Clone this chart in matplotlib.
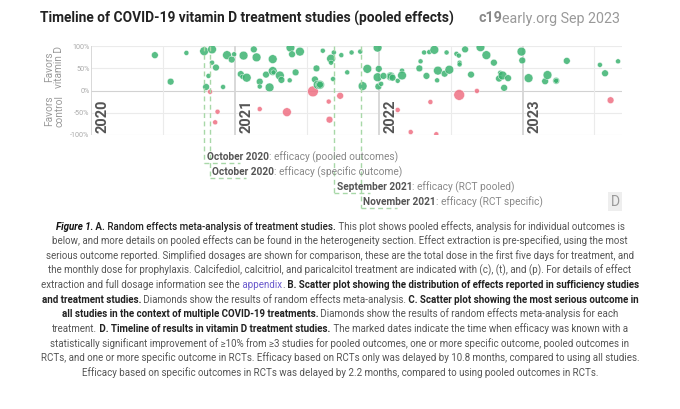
import matplotlib
matplotlib.use('Agg')
import matplotlib.pyplot as plt
import matplotlib.dates as mdates
from matplotlib.lines import Line2D
from matplotlib import font_manager
import pandas as pd

# Study results: publication date, effect (% improvement), relative study size (1 small .. 4 very large)
study_dates = [
    '2020-06-11', '2020-07-21', '2020-08-30', '2020-10-14', '2020-10-19', '2020-10-25', '2020-10-29',
    '2020-11-03', '2020-11-03', '2020-11-11', '2020-11-13', '2020-11-17', '2020-12-01', '2020-12-11',
    '2020-12-23', '2020-12-29', '2021-01-15', '2021-01-19', '2021-01-22', '2021-01-30', '2021-02-17',
    '2021-02-24', '2021-03-04', '2021-03-04', '2021-03-04', '2021-03-20', '2021-03-29', '2021-04-06',
    '2021-04-06', '2021-04-08', '2021-04-24', '2021-04-28', '2021-05-12', '2021-05-19', '2021-05-21',
    '2021-05-25', '2021-06-03', '2021-06-14', '2021-07-17', '2021-07-22', '2021-07-26', '2021-07-29',
    '2021-08-04', '2021-08-04', '2021-08-11', '2021-08-26', '2021-08-28', '2021-09-01', '2021-09-01',
    '2021-09-06', '2021-09-08', '2021-09-24', '2021-09-27', '2021-10-12', '2021-10-23', '2021-11-14',
    '2021-11-20', '2021-12-02', '2021-12-28', '2021-12-28', '2021-12-30', '2021-12-31', '2022-01-06',
    '2022-01-12', '2022-01-30', '2022-01-30', '2022-02-04', '2022-02-17', '2022-02-17', '2022-02-28',
    '2022-02-28', '2022-03-22', '2022-04-13', '2022-04-16', '2022-04-25', '2022-05-01', '2022-05-08',
    '2022-05-11', '2022-05-21', '2022-05-26', '2022-05-28', '2022-05-30', '2022-06-16', '2022-06-21',
    '2022-06-28', '2022-07-16', '2022-07-22', '2022-07-24', '2022-07-24', '2022-07-23', '2022-08-07',
    '2022-08-22', '2022-09-06', '2022-09-15', '2022-09-30', '2022-10-19', '2022-11-01', '2022-11-04',
    '2022-11-10', '2022-11-14', '2022-11-24', '2022-12-28', '2022-12-30', '2023-01-15', '2023-02-26',
    '2023-03-04', '2023-03-26', '2023-03-26', '2023-04-22', '2023-07-15', '2023-07-28', '2023-08-11',
    '2023-08-30',
]
study_effect = [
    80, 20, 85, 89, 8, 33, -3,
    93, 63, -72, 52, -48, 8, 80,
    70, 82, 37, 31, 79, 29, 93,
    75, 20, 9, -42, 36, 7, 71,
    44, 41, 34, 24, -49, 23, 97,
    82, 41, 88, -2, 25, 50, 13,
    13, 13, 90, -25, -66, 72, 63,
    26, 86, -12, 80, 41, 86, 88,
    10, 49, 97, 30, 9, 49, 15,
    33, 32, 32, 29, 22, -44, 45,
    34, -94, 50, 66, 86, 33, 87,
    -26, 92, -99, 23, 45, 38, 86,
    47, 83, 79, 63, 59, -10, 93,
    36, -1, 98, 80, 63, 27, 40,
    34, 6, 28, 88, 68, 28, 21,
    35, 22, 22, 67, 58, 39, -22,
    66,
]
study_weight = [
    2, 2, 1, 3, 2, 1, 1,
    3, 1, 1, 2, 1, 1, 3,
    2, 1, 2, 1, 3, 3, 2,
    3, 2, 1, 1, 2, 3, 3,
    3, 1, 3, 2, 3, 1, 3,
    2, 2, 3, 4, 2, 2, 3,
    3, 2, 1, 1, 2, 3, 1,
    1, 1, 2, 1, 1, 1, 1,
    3, 3, 3, 3, 2, 2, 1,
    2, 3, 2, 2, 1, 1, 1,
    3, 1, 2, 1, 1, 2, 1,
    1, 3, 1, 1, 3, 2, 1,
    3, 1, 1, 1, 1, 4, 2,
    2, 1, 3, 3, 2, 2, 1,
    3, 2, 2, 3, 2, 3, 2,
    3, 2, 1, 2, 1, 2, 2,
    1,
]

# Dates when efficacy became known
milestone_dates = ['2020-10-14', '2020-10-28', '2021-09-09', '2021-11-15']
milestone_month = ['October 2020', 'October 2020', 'September 2021', 'November 2021']
milestone_kind = ['efficacy (pooled outcomes)', 'efficacy (specific outcome)',
                  'efficacy (RCT pooled)', 'efficacy (RCT specific)']

y_ticks = [100, 50, 0, -50, -100]
years = ['2020', '2021', '2022', '2023']

title = 'Timeline of COVID-19 vitamin D treatment studies (pooled effects)'

# caption lines: (text, style) segments
caption = [
    [('Figure 1.', 'bi'), (' A.', 'b'), (' Random effects meta-analysis of treatment studies.', 'm'),
     (' This plot shows pooled effects, analysis for individual outcomes is', 'n')],
    [('below, and more details on pooled effects can be found in the heterogeneity section. '
      'Effect extraction is pre-specified, using the most', 'n')],
    [('serious outcome reported. Simplified dosages are shown for comparison, these are the total dose '
      'in the first five days for treatment, and', 'n')],
    [('the monthly dose for prophylaxis. Calcifediol, calcitriol, and paricalcitol treatment are indicated '
      'with (c), (t), and (p). For details of effect', 'n')],
    [('extraction and full dosage information see the', 'n'), (' appendix', 'link'), ('.', 'n'),
     (' B. Scatter plot showing the distribution of effects reported in sufficiency studies', 'b')],
    [('and treatment studies.', 'b'), (' Diamonds show the results of random effects meta-analysis.', 'n'),
     (' C. Scatter plot showing the most serious outcome in', 'b')],
    [('all studies in the context of multiple COVID-19 treatments.', 'b'),
     (' Diamonds show the results of random effects meta-analysis for each', 'n')],
    [('treatment.', 'n'), (' D. Timeline of results in vitamin D treatment studies.', 'b'),
     (' The marked dates indicate the time when efficacy was known with a', 'n')],
    [('statistically significant improvement of \u226510% from \u22653 studies for pooled outcomes, '
      'one or more specific outcome, pooled outcomes in', 'n')],
    [('RCTs, and one or more specific outcome in RCTs. Efficacy based on RCTs only was delayed by '
      '10.8 months, compared to using all studies.', 'n')],
    [('Efficacy based on specific outcomes in RCTs was delayed by 2.2 months, compared to using '
      'pooled outcomes in RCTs.', 'n')],
]

W, H = 680, 409
plt.rcParams['font.family'] = ['Roboto', 'DejaVu Sans']
fig = plt.figure(figsize=(W / 100, H / 100), dpi=100)


def fx(px):
    return px / W


def fy(py):
    return 1 - py / H


names = {f.name for f in font_manager.fontManager.ttflist}
if 'Liberation Sans Narrow' in names:
    cap_family, cap_size = ['Liberation Sans Narrow', 'DejaVu Sans'], 8.1
else:
    cap_family, cap_size = ['Roboto', 'DejaVu Sans'], 7.0

styles = {
    'n': dict(color='#555555'),
    'm': dict(color='#222222', fontweight='medium'),
    'b': dict(color='#222222', fontweight='bold'),
    'bi': dict(color='#111111', fontweight='bold', fontstyle='italic'),
    'link': dict(color='#6a5acd'),
}

renderer = fig.canvas.get_renderer()


def rich_text(x_px, y_px, parts, size, align='left', family=None):
    texts = []
    for s, st in parts:
        kw = dict(st)
        if family:
            kw['family'] = family
        texts.append(fig.text(0, fy(y_px), s, fontsize=size, va='baseline', ha='left', **kw))
    widths = [t.get_window_extent(renderer).width for t in texts]
    total = sum(widths)
    start = {'left': x_px, 'center': x_px - total / 2, 'right': x_px - total}[align]
    for t, w in zip(texts, widths):
        t.set_x(fx(start))
        start += w


# main timeline axes
ax = fig.add_axes([fx(91), fy(134.7), fx(622) - fx(91), (134.7 - 46.3) / H])
ax.set_xlim(mdates.date2num(pd.Timestamp('2020-01-01')), mdates.date2num(pd.Timestamp('2023-09-09')))
ax.set_ylim(-100, 100)
for s in ax.spines.values():
    s.set_visible(False)
ax.set_xticks([])
ax.set_yticks(y_ticks)
ax.set_yticklabels([f'{v}%' for v in y_ticks], fontsize=5.2, color='#aaaaaa')
ax.tick_params(length=0, pad=1)

for v in y_ticks:
    ax.axhline(v, color='#d2d2d2' if v == 0 else '#ebebeb', lw=0.8, zorder=0)
for d in pd.date_range('2020-01-01', '2023-07-01', freq='6MS'):
    jan = d.month == 1
    ax.axvline(mdates.date2num(d), color='#d6d6d6' if jan else '#ebebeb', lw=1.3 if jan else 0.8, zorder=0)

for y in years:
    ax.annotate(y, xy=(mdates.date2num(pd.Timestamp(f'{y}-01-01')), -100), xytext=(3, 1),
                textcoords='offset points', rotation=90, ha='left', va='bottom',
                fontsize=10.5, fontweight='bold', color='#555555')

marker_area = {1: 13, 2: 24, 3: 40, 4: 60}
dates = mdates.date2num(pd.to_datetime(study_dates))
colors = ['#3cb371' if e > 0 else '#ef7083' for e in study_effect]
ax.scatter(dates, study_effect, s=[marker_area[w] for w in study_weight], c=colors,
           alpha=0.85, edgecolors='white', linewidths=0.35, zorder=3)

# efficacy milestones
row_y = [157, 172, 187, 201.7]
for d, month, kind, ry in zip(milestone_dates, milestone_month, milestone_kind, row_y):
    xd = ax.transData.transform((mdates.date2num(pd.Timestamp(d)), 0))[0]
    bottom = ry + 6
    fig.add_artist(Line2D([fx(xd), fx(xd)], [fy(46.3), fy(bottom)], color='#a8d8a8',
                          lw=1, ls=(0, (3.5, 2.5))))
    fig.add_artist(Line2D([fx(xd), fx(xd + 36)], [fy(bottom), fy(bottom)], color='#a8d8a8',
                          lw=1, ls=(0, (3.5, 2.5))))
    rich_text(xd + 2.5, ry + 3.3, [(month, dict(color='#555555', fontweight='bold')),
                                   (': ' + kind, dict(color='#888888'))], 7.3)

fig.text(fx(615), fy(201.5), 'D', ha='center', va='center', fontsize=10, color='#999999',
         bbox=dict(boxstyle='square,pad=0.2', fc='#eeeeee', ec='none'))

# side labels
fig.text(fx(54), fy(67), 'Favors\nvitamin D', rotation=90, ha='center', va='center',
         multialignment='center', fontsize=7.3, color='#999999', linespacing=1.05)
fig.text(fx(54), fy(111), 'Favors\ncontrol', rotation=90, ha='center', va='center',
         multialignment='center', fontsize=7.3, color='#999999', linespacing=1.05)

# title
fig.text(fx(40), fy(22.5), title, fontsize=9.95, fontweight='bold', color='#222222', va='baseline')
rich_text(620, 22.5, [('c19', dict(color='#888888', fontweight='bold')),
                      ('early.org Sep 2023', dict(color='#999999'))], 10.3, align='right')

# caption
for i, line in enumerate(caption):
    rich_text(340, 229.8 + i * 14.6, [(s, styles[st]) for s, st in line], cap_size,
              align='center', family=cap_family)

fig.savefig('out.png', dpi=100)
